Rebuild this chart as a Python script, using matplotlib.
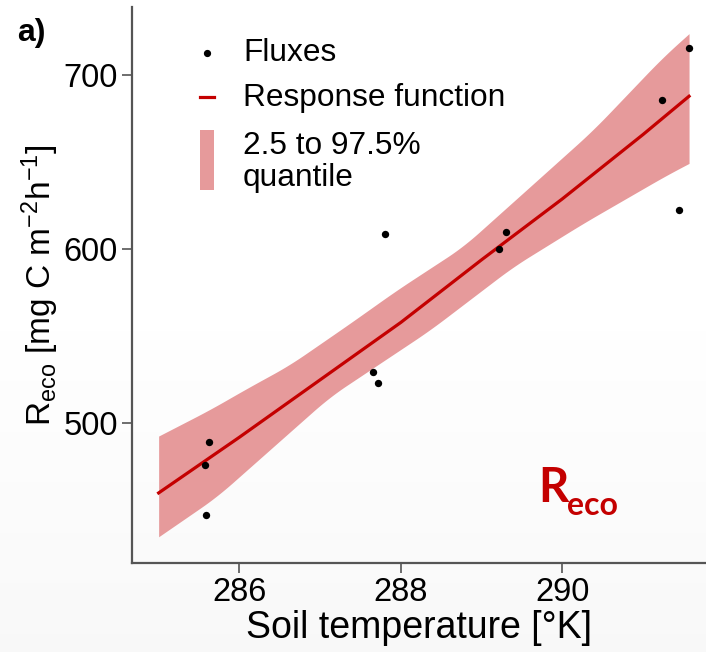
import numpy as np
import matplotlib
matplotlib.use("Agg")
import matplotlib.pyplot as plt
from matplotlib.patches import Rectangle
from matplotlib.lines import Line2D

plt.rcParams['font.family'] = ['Liberation Sans', 'DejaVu Sans']
plt.rcParams['mathtext.fontset'] = 'custom'
plt.rcParams['mathtext.rm'] = 'Liberation Sans'
plt.rcParams['mathtext.it'] = 'Liberation Sans:italic'

# measured fluxes
soil_temp = [285.62, 285.58, 285.59, 287.66, 287.72, 287.81, 289.22, 289.30, 291.24, 291.44, 291.57]
reco_flux = [489, 476, 447.5, 529.6, 523, 609, 600, 610, 686, 622.6, 715.6]

# fitted response function
fit_t = [285.0, 286.0, 287.0, 288.0, 289.0, 290.0, 291.0, 291.57]
fit_r = [460, 492, 525, 558, 594, 629, 666, 688]

# 2.5 / 97.5 % quantile band
upper_t = [285.0, 285.64, 286.09, 286.62, 287.37, 287.95, 288.77, 289.6, 290.38, 291.25, 291.57]
upper_r = [492.7, 508, 520, 533.5, 557.5, 576.6, 601.5, 636, 668.5, 710.7, 724]
lower_t = [285.0, 285.72, 287.12, 288.36, 289.39, 290.26, 291.29, 291.57]
lower_r = [434.8, 457.8, 515.3, 553.6, 590, 615, 642.6, 649.4]

band_t = np.linspace(285.0, 291.57, 400)
band_hi = np.interp(band_t, upper_t, upper_r)
band_lo = np.interp(band_t, lower_t, lower_r)
# soften the corners a little
k = np.ones(25) / 25
band_hi = np.convolve(np.pad(band_hi, 12, mode='reflect', reflect_type='odd'), k, 'valid')
band_lo = np.convolve(np.pad(band_lo, 12, mode='reflect', reflect_type='odd'), k, 'valid')

red = '#c40000'
pink = '#e69a9b'

W, H = 706, 652
fig = plt.figure(figsize=(W / 100, H / 100), dpi=100)

def px(x, y):
    return x / W, 1 - y / H

# faint grey gradient of the slide background
bg = fig.add_axes([0, 0, 1, 1], zorder=-5)
grad = np.ones((H, 1))
yy = np.arange(H)
grad[:, 0] = np.where(yy < 330, 1.0, 1.0 - 0.025 * (yy - 330) / (H - 330))
bg.imshow(np.dstack([grad, grad, grad]), aspect='auto', extent=[0, 1, 0, 1])
bg.axis('off')

l, b = px(132, 562.7)
r, t = px(706, 7)
ax = fig.add_axes([l, b, r - l, t - b])
ax.patch.set_alpha(0)

ax.fill_between(band_t, band_lo, band_hi, color=pink, lw=0, zorder=1)
ax.plot(fit_t, fit_r, color=red, lw=2.3, zorder=2)
ax.scatter(soil_temp, reco_flux, s=28, color='black', zorder=3, lw=0)

ax.set_xlim(284.67, 291.78)
ax.set_ylim(419.9, 739.3)
ax.set_xticks([286, 288, 290])
ax.set_yticks([500, 600, 700])

for s in ['top', 'right']:
    ax.spines[s].set_visible(False)
for s in ['left', 'bottom']:
    ax.spines[s].set_color('#555555')
    ax.spines[s].set_linewidth(1.6)
ax.tick_params(length=7, width=1.2, color='#555555', labelsize=23.5, pad=3)

ax.set_xlabel('Soil temperature [°K]', fontsize=27, labelpad=2)
ax.set_ylabel(r'R$_{\mathrm{eco}}$ [mg C m$^{-2}$h$^{-1}$]', fontsize=24, labelpad=2)

# legend drawn by hand
fig.add_artist(Line2D([px(206.7, 0)[0]], [px(0, 52.7)[1]], marker='o', ms=4.2,
                      color='black', lw=0, transform=fig.transFigure))
x0, y0 = px(200, 96.7)
x1, _ = px(213.5, 96.7)
fig.add_artist(Line2D([x0, x1], [y0, y0], color=red, lw=2.3, transform=fig.transFigure))
rx, ry = px(200, 190)
fig.add_artist(Rectangle((rx, ry), 14 / W, 60 / H, color=pink, lw=0,
                         transform=fig.transFigure))
fig.text(*px(243, 53), 'Fluxes', fontsize=22.8, va='center')
fig.text(*px(243, 98), 'Response function', fontsize=22.8, va='center')
fig.text(*px(243, 162), '2.5 to 97.5%\nquantile', fontsize=22.8, va='center',
         linespacing=1.1)

fig.text(*px(17, 41), 'a)', fontsize=23, fontweight='bold')

fig.text(*px(538, 502), 'R', fontsize=34, fontweight='bold', color=red,
         family=['Lato', 'DejaVu Sans'])
fig.text(*px(567, 515), 'eco', fontsize=23, fontweight='bold', color=red,
         family=['Lato', 'DejaVu Sans'])

fig.savefig('out.png', dpi=100)
